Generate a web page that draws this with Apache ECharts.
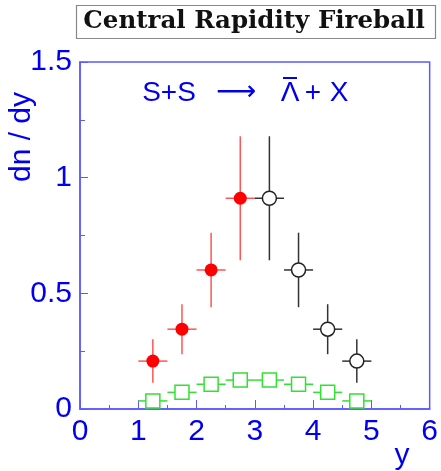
<!DOCTYPE html>
<html><head><meta charset="utf-8">
<script src="https://cdn.jsdelivr.net/npm/echarts@6/dist/echarts.min.js"></script>
<style>html,body{margin:0;padding:0;background:#fff}#c{width:441px;height:471px}</style>
</head><body><div id="c"></div>
<script>
// Data
const redX = [1.25, 1.75, 2.25, 2.75];
const redY = [0.207, 0.345, 0.601, 0.911];
const redErr = [0.094, 0.108, 0.161, 0.268];
const blackX = [3.25, 3.75, 4.25, 4.75];
const blackY = [0.911, 0.601, 0.345, 0.207];
const blackErr = [0.268, 0.161, 0.108, 0.094];
const greenX = [1.25, 1.75, 2.25, 2.75, 3.25, 3.75, 4.25, 4.75];
const greenY = [0.035, 0.072, 0.107, 0.125, 0.125, 0.107, 0.072, 0.035];
const xHalfWidth = 0.25;
const xTicks = [0, 1, 2, 3, 4, 5, 6];
const yTicks = [0, 0.5, 1, 1.5];

const BLUE = '#0000ee';
const FRAME = '#5a5aff';

function errSeries(xs, ys, es, color, z) {
  return {
    type: 'custom', z: z,
    data: xs.map((x, i) => [x, ys[i], es[i]]),
    renderItem: function (params, api) {
      const x = api.value(0), y = api.value(1), e = api.value(2);
      const pL = api.coord([x - xHalfWidth, y]);
      const pR = api.coord([x + xHalfWidth, y]);
      const pT = api.coord([x, y + e]);
      const pB = api.coord([x, y - e]);
      const children = [
        {type: 'line', shape: {x1: pL[0], y1: pL[1], x2: pR[0], y2: pR[1]}, style: {stroke: color, lineWidth: 1.5}}
      ];
      if (e > 0) children.push({type: 'line', shape: {x1: pT[0], y1: pT[1], x2: pB[0], y2: pB[1]}, style: {stroke: color, lineWidth: 1.5}});
      return {type: 'group', children: children};
    }
  };
}

const chart = echarts.init(document.getElementById('c'));
chart.setOption({
  animation: false,
  backgroundColor: '#fff',
  grid: {left: 80, right: 10, top: 62, bottom: 62, show: true, borderColor: FRAME, borderWidth: 1.5, backgroundColor: 'transparent'},
  xAxis: {
    type: 'value', min: 0, max: 6, interval: 1,
    axisLine: {lineStyle: {color: FRAME, width: 1.5}},
    axisTick: {inside: true, length: 9, lineStyle: {color: FRAME, width: 1}},
    minorTick: {show: true, splitNumber: 2, length: 4, lineStyle: {color: FRAME, width: 1}},
    splitLine: {show: false},
    axisLabel: {color: BLUE, fontSize: 30, fontFamily: 'Liberation Sans', margin: 8,
      formatter: v => xTicks.includes(v) ? String(v) : ''}
  },
  yAxis: {
    type: 'value', min: 0, max: 1.5, interval: 0.5,
    axisLine: {show: true, lineStyle: {color: FRAME, width: 1.5}},
    axisTick: {show: true, inside: true, length: 8, lineStyle: {color: FRAME, width: 1}},
    minorTick: {show: true, splitNumber: 2, length: 5, lineStyle: {color: FRAME, width: 1}},
    splitLine: {show: false},
    axisLabel: {color: BLUE, fontSize: 30, fontFamily: 'Liberation Sans', margin: 8,
      formatter: v => yTicks.includes(v) ? String(v) : ''}
  },
  graphic: [
    {type: 'rect', shape: {x: 76.5, y: 5.5, width: 359, height: 33}, style: {fill: '#fff', stroke: '#888', lineWidth: 1.2}},
    {type: 'text', x: 254, y: 22, style: {text: 'Central Rapidity Fireball', fill: '#111', font: 'bold 24.5px "DejaVu Serif"', textAlign: 'center', textVerticalAlign: 'middle'}},
    {type: 'text', x: 22, y: 137, rotation: Math.PI / 2, style: {text: 'dn / dy', fill: BLUE, font: '30px "Liberation Sans"', textAlign: 'center', textVerticalAlign: 'middle'}},
    {type: 'text', x: 402, y: 456, style: {text: 'y', fill: BLUE, font: '30px "Liberation Sans"', textAlign: 'center', textVerticalAlign: 'middle'}},
    {type: 'text', x: 169, y: 93, style: {text: 'S+S', fill: BLUE, font: '28px "Liberation Sans"', textAlign: 'center', textVerticalAlign: 'middle'}},
    {type: 'text', x: 236, y: 93, style: {text: '⟶', fill: BLUE, font: '28px "DejaVu Sans"', textAlign: 'center', textVerticalAlign: 'middle'}},
    {type: 'text', x: 290, y: 93, style: {text: 'Λ', fill: BLUE, font: '28px "Liberation Sans"', textAlign: 'center', textVerticalAlign: 'middle'}},
    {type: 'line', shape: {x1: 283, y1: 78, x2: 297, y2: 78}, style: {stroke: BLUE, lineWidth: 2}},
    {type: 'text', x: 313, y: 93, style: {text: '+', fill: BLUE, font: '28px "Liberation Sans"', textAlign: 'center', textVerticalAlign: 'middle'}},
    {type: 'text', x: 339, y: 93, style: {text: 'X', fill: BLUE, font: '28px "Liberation Sans"', textAlign: 'center', textVerticalAlign: 'middle'}}
  ],
  series: [
    errSeries(greenX, greenY, greenX.map(() => 0), '#33e033', 2),
    errSeries(redX, redY, redErr, '#ff5555', 2),
    errSeries(blackX, blackY, blackErr, '#333333', 2),
    {type: 'scatter', z: 5, symbol: 'rect', symbolSize: 14, data: greenX.map((x, i) => [x, greenY[i]]),
      itemStyle: {color: '#fff', borderColor: '#33e033', borderWidth: 1.5, opacity: 1}},
    {type: 'scatter', z: 5, symbol: 'circle', symbolSize: 13, data: redX.map((x, i) => [x, redY[i]]),
      itemStyle: {color: '#ff0000', borderWidth: 0, opacity: 1}},
    {type: 'scatter', z: 5, symbol: 'circle', symbolSize: 14, data: blackX.map((x, i) => [x, blackY[i]]),
      itemStyle: {color: '#fff', borderColor: '#222', borderWidth: 1.5, opacity: 1}}
  ]
});
</script></body></html>
